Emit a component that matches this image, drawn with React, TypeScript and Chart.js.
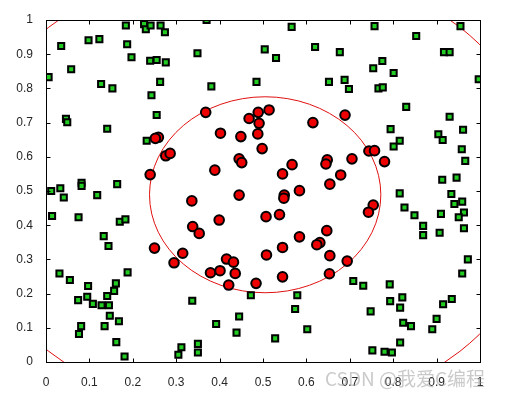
import React, { useEffect, useRef } from 'react';
import { Chart, registerables } from 'chart.js';

Chart.register(...registerables);

const TICK_VALUES = [0, 0.1, 0.2, 0.3, 0.4, 0.5, 0.6, 0.7, 0.8, 0.9, 1];
const TICK_LABELS = ['0', '0.1', '0.2', '0.3', '0.4', '0.5', '0.6', '0.7', '0.8', '0.9', '1'];

const GREEN_X = [
  0.184, 0.226, 0.230, 0.241, 0.264, 0.274, 0.370, 0.035, 0.098, 0.123, 0.187, 0.197, 0.240, 0.255, 0.276, 0.349,
  0.006, 0.058, 0.127, 0.153, 0.263, 0.243, 0.381, 0.485, 0.046, 0.049, 0.141, 0.255, 0.232,
  0.566, 0.757, 0.955, 0.853, 0.504, 0.530, 0.620, 0.677, 0.917, 0.930, 0.775, 0.754, 0.801, 0.652, 0.688, 0.698,
  0.766, 0.776, 0.997, 0.830, 0.930, 0.794, 0.961, 0.904, 0.914, 0.815, 0.801, 0.958, 0.966, 0.913, 0.946,
  0.012, 0.033, 0.041, 0.082, 0.082, 0.118, 0.164, 0.014, 0.075, 0.133, 0.144, 0.170, 0.183, 0.031, 0.055, 0.188,
  0.097, 0.074, 0.095, 0.108, 0.128, 0.145, 0.141, 0.161, 0.157, 0.147, 0.168, 0.135, 0.081, 0.076, 0.162, 0.181,
  0.337, 0.392, 0.445, 0.439, 0.472, 0.312, 0.305, 0.350, 0.350,
  0.579, 0.574, 0.602, 0.528, 0.708, 0.731, 0.792, 0.793, 0.821, 0.816, 0.748, 0.823, 0.841, 0.816, 0.752, 0.780,
  0.797, 0.915, 0.935, 0.900, 0.890, 0.815, 0.826, 0.849, 0.869, 0.869, 0.910, 0.907, 0.934, 0.941, 0.959, 0.963,
  0.951, 0.963, 0.972, 0.959,
];
const GREEN_Y = [
  0.984, 0.988, 0.973, 0.984, 0.984, 0.964, 1.000, 0.924, 0.941, 0.944, 0.929, 0.891, 0.881, 0.883, 0.876, 0.903,
  0.833, 0.856, 0.813, 0.800, 0.819, 0.780, 0.806, 0.819, 0.711, 0.701, 0.682, 0.722, 0.647,
  0.980, 0.982, 0.982, 0.953, 0.914, 0.889, 0.921, 0.906, 0.906, 0.906, 0.880, 0.859, 0.845, 0.819, 0.825, 0.798,
  0.800, 0.803, 0.827, 0.746, 0.717, 0.681, 0.679, 0.666, 0.649, 0.647, 0.630, 0.622, 0.588, 0.533, 0.539,
  0.500, 0.508, 0.481, 0.524, 0.515, 0.488, 0.520, 0.427, 0.423, 0.368, 0.339, 0.410, 0.417, 0.259, 0.240, 0.262,
  0.222, 0.181, 0.191, 0.170, 0.166, 0.166, 0.193, 0.230, 0.208, 0.135, 0.119, 0.105, 0.105, 0.082, 0.058, 0.016,
  0.179, 0.111, 0.133, 0.086, 0.195, 0.043, 0.021, 0.053, 0.028,
  0.195, 0.155, 0.096, 0.069, 0.237, 0.223, 0.227, 0.178, 0.189, 0.159, 0.148, 0.115, 0.105, 0.057, 0.034, 0.030,
  0.028, 0.169, 0.184, 0.126, 0.096, 0.493, 0.452, 0.429, 0.398, 0.371, 0.433, 0.378, 0.491, 0.462, 0.469, 0.437,
  0.423, 0.391, 0.300, 0.259,
];

const RED_X = [
  0.368, 0.468, 0.489, 0.514, 0.491, 0.488, 0.402, 0.449, 0.615, 0.689, 0.259, 0.252, 0.276, 0.286, 0.498, 0.445,
  0.451, 0.389, 0.240, 0.567, 0.545, 0.648, 0.645, 0.705, 0.679, 0.654, 0.744, 0.757, 0.780, 0.336, 0.445, 0.549,
  0.548, 0.584, 0.754, 0.743, 0.399, 0.338, 0.353, 0.507, 0.538, 0.250, 0.315, 0.295, 0.416, 0.432, 0.379, 0.401,
  0.436, 0.421, 0.484, 0.508, 0.545, 0.584, 0.647, 0.631, 0.624, 0.654, 0.694, 0.545, 0.653,
];
const RED_Y = [
  0.730, 0.712, 0.730, 0.737, 0.698, 0.667, 0.669, 0.659, 0.700, 0.722, 0.657, 0.654, 0.603, 0.610, 0.624, 0.594,
  0.583, 0.561, 0.548, 0.577, 0.550, 0.591, 0.579, 0.594, 0.547, 0.520, 0.617, 0.618, 0.586, 0.471, 0.488, 0.488,
  0.479, 0.501, 0.459, 0.438, 0.415, 0.396, 0.376, 0.425, 0.431, 0.333, 0.318, 0.290, 0.301, 0.292, 0.261, 0.267,
  0.259, 0.225, 0.230, 0.313, 0.335, 0.366, 0.384, 0.349, 0.343, 0.311, 0.295, 0.249, 0.258,
];

// boundary curves: [centerX, centerY, radiusX, radiusY] in data units
const INNER_CURVE = [0.505, 0.489, 0.2665, 0.2865];
const OUTER_CURVE = [0.48, 0.505, 0.67, 0.67];

const WATERMARK = 'CSDN @我爱C编程';
const FONT = '"Liberation Sans", Arial, Helvetica, sans-serif';

const decorPlugin = {
  id: 'decor',
  beforeDatasetsDraw(chart: any) {
    const { ctx, chartArea: a, scales } = chart;
    const xs = scales.x;
    const ys = scales.y;
    ctx.save();
    ctx.beginPath();
    ctx.rect(a.left, a.top, a.right - a.left, a.bottom - a.top);
    ctx.clip();
    ctx.strokeStyle = '#e01010';
    ctx.lineWidth = 1;
    for (const c of [INNER_CURVE, OUTER_CURVE]) {
      const cx = xs.getPixelForValue(c[0]);
      const cy = ys.getPixelForValue(c[1]);
      const rx = Math.abs(xs.getPixelForValue(c[0] + c[2]) - cx);
      const ry = Math.abs(ys.getPixelForValue(c[1] + c[3]) - cy);
      ctx.beginPath();
      ctx.ellipse(cx, cy, rx, ry, 0, 0, Math.PI * 2);
      ctx.stroke();
    }
    ctx.restore();
  },
  afterDraw(chart: any) {
    const { ctx, chartArea: a, scales } = chart;
    const xs = scales.x;
    const ys = scales.y;
    const L = Math.round(a.left) + 0.5;
    const R = Math.round(a.right) + 0.5;
    const T = Math.round(a.top) + 0.5;
    const B = Math.round(a.bottom) + 0.5;
    ctx.save();
    ctx.strokeStyle = '#000';
    ctx.lineWidth = 1;
    ctx.strokeRect(L, T, R - L, B - T);
    const tl = 4;
    ctx.beginPath();
    for (const v of TICK_VALUES) {
      const px = Math.round(xs.getPixelForValue(v)) + 0.5;
      ctx.moveTo(px, B);
      ctx.lineTo(px, B - tl);
      ctx.moveTo(px, T);
      ctx.lineTo(px, T + tl);
      const py = Math.round(ys.getPixelForValue(v)) + 0.5;
      ctx.moveTo(L, py);
      ctx.lineTo(L + tl, py);
      ctx.moveTo(R, py);
      ctx.lineTo(R - tl, py);
    }
    ctx.stroke();
    ctx.font = '19px "Noto Sans CJK SC", "Liberation Sans", sans-serif';
    ctx.fillStyle = 'rgba(150,150,150,0.5)';
    ctx.textBaseline = 'middle';
    ctx.textAlign = 'left';
    ctx.fillText(WATERMARK, 325, 379);
    ctx.restore();
  },
};

export default function App() {
  const ref = useRef<HTMLCanvasElement | null>(null);
  useEffect(() => {
    if (!ref.current) return;
    const green = GREEN_X.map((x, i) => ({ x, y: GREEN_Y[i] }));
    const red = RED_X.map((x, i) => ({ x, y: RED_Y[i] }));
    const tickOpts = {
      callback: (_v: any, i: number) => TICK_LABELS[i],
      font: { family: FONT, size: 12 },
      color: '#262626',
      autoSkip: false,
      maxRotation: 0,
    };
    const chart = new Chart(ref.current, {
      type: 'scatter',
      data: {
        datasets: [
          {
            data: green,
            pointStyle: 'rect',
            pointRadius: 4.3,
            backgroundColor: '#22cc22',
            borderColor: '#000',
            borderWidth: 2,
          },
          {
            data: red,
            pointStyle: 'circle',
            pointRadius: 4.8,
            backgroundColor: '#ee0000',
            borderColor: '#000',
            borderWidth: 2,
          },
        ],
      },
      options: {
        animation: false,
        responsive: false,
        events: [],
        layout: { padding: { left: 0, top: 20, right: 27, bottom: 0 } },
        plugins: { legend: { display: false }, tooltip: { enabled: false } },
        scales: {
          x: {
            type: 'linear',
            min: 0,
            max: 1,
            afterBuildTicks: (s: any) => {
              s.ticks = TICK_VALUES.map((v) => ({ value: v }));
            },
            afterFit: (s: any) => {
              s.height = 37;
            },
            ticks: { ...tickOpts, padding: 5 },
            grid: { display: false },
            border: { display: false },
          },
          y: {
            type: 'linear',
            min: 0,
            max: 1,
            afterBuildTicks: (s: any) => {
              s.ticks = TICK_VALUES.map((v) => ({ value: v }));
            },
            afterFit: (s: any) => {
              s.width = 46;
            },
            ticks: { ...tickOpts, padding: 5 },
            grid: { display: false },
            border: { display: false },
          },
        },
      },
      plugins: [decorPlugin],
    } as any);
    return () => chart.destroy();
  }, []);
  return (
    <div style={{ position: 'fixed', left: 0, top: 0, width: 507, height: 399, background: '#fff' }}>
      <canvas ref={ref} width={507} height={399} style={{ display: 'block' }} />
    </div>
  );
}
